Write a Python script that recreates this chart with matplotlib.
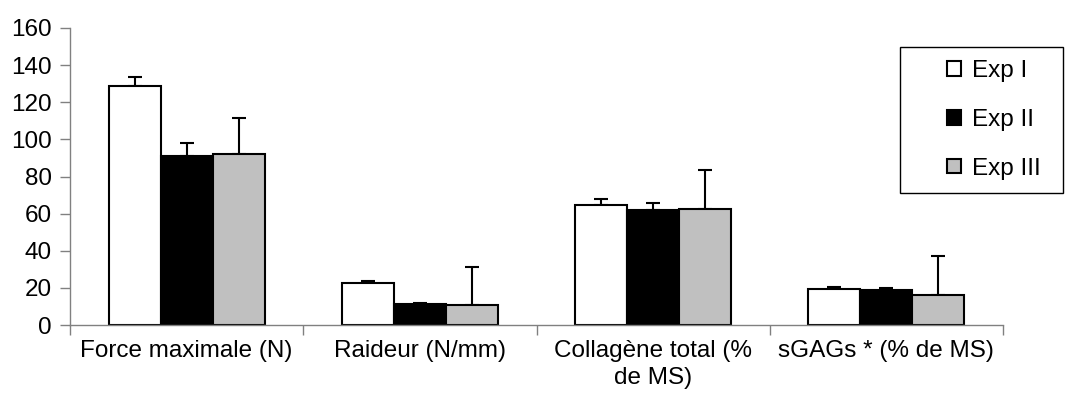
import matplotlib
matplotlib.use("Agg")
import matplotlib.pyplot as plt
import numpy as np
from matplotlib.patches import Rectangle

categories = ["Force maximale (N)", "Raideur (N/mm)", "Collagène total (%\nde MS)", "sGAGs * (% de MS)"]
series_names = ["Exp I", "Exp II", "Exp III"]
exp1 = [128.5, 22.8, 64.7, 19.6]
exp2 = [91.2, 11.3, 61.8, 18.7]
exp3 = [92.0, 11.0, 62.3, 16.3]
err1 = [5.2, 1.0, 3.3, 1.0]
err2 = [6.7, 0.3, 4.0, 1.1]
err3 = [19.7, 20.1, 21.2, 20.9]
colors = ["white", "black", "#C0C0C0"]
yticks = [0, 20, 40, 60, 80, 100, 120, 140, 160]

plt.rcParams['font.family'] = ['Liberation Sans', 'DejaVu Sans']
FS = 17.5

fig = plt.figure(figsize=(10.66, 4.03), dpi=100)
ax = fig.add_axes([70/1066, 1-325/403, (1003-70)/1066, (325-28)/403])

x = np.arange(len(categories))
w = 0.223
vals = [exp1, exp2, exp3]
errs = [err1, err2, err3]
handles = []
for i in range(3):
    pos = x + (i - 1) * w
    b = ax.bar(pos, vals[i], width=w, color=colors[i], edgecolor="black", linewidth=1.5, zorder=2)
    handles.append(b)
    ax.errorbar(pos, vals[i], yerr=[np.zeros(4), errs[i]], fmt="none", ecolor="black",
                elinewidth=1.5, capsize=5, capthick=1.5, zorder=1)

ax.set_xlim(-0.5, 3.5)
ax.set_ylim(0, 160)
ax.set_yticks(yticks)
ax.set_yticklabels([str(t) for t in yticks], fontsize=FS)
ax.set_xticks([-0.5, 0.5, 1.5, 2.5, 3.5])
ax.set_xticklabels([])
ax.set_xticks(x, minor=True)
ax.set_xticklabels(categories, minor=True, fontsize=FS, linespacing=1.3)
ax.tick_params(axis="x", which="minor", length=0, pad=11)
ax.tick_params(axis="x", which="major", length=7, width=1, color="#808080", direction="out")
ax.tick_params(axis="y", length=7, width=1, color="#808080", direction="out", pad=6)
for s in ["top", "right"]:
    ax.spines[s].set_visible(False)
for s in ["left", "bottom"]:
    ax.spines[s].set_color("#808080")
    ax.spines[s].set_linewidth(1)

# legend frame
fig.patches.append(Rectangle((900/1066, 1-193/403), (1063-900)/1066, (193-47)/403,
                             transform=fig.transFigure, fill=False, edgecolor="black",
                             linewidth=1))
leg = fig.legend([h[0] for h in handles], series_names, loc="center",
                 bbox_to_anchor=(994/1066, 1-120/403), frameon=False, fontsize=FS,
                 handlelength=0.55, handleheight=0.55, handletextpad=0.45, labelspacing=1.1)

fig.savefig("out.png", dpi=100)
